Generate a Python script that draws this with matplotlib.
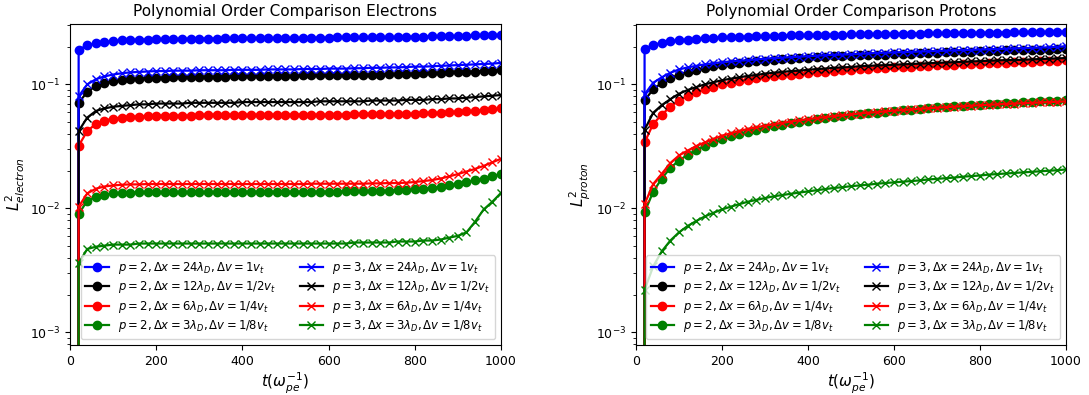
import numpy as np
import matplotlib
matplotlib.use('Agg')
import matplotlib.pyplot as plt

# =========================
# Dados
# =========================
t = np.arange(0, 1001, 20)

# Electrons, p = 2
e_p2_24 = [0.0,
    0.190, 0.207, 0.214, 0.219, 0.223, 0.226, 0.228, 0.229, 0.230, 0.231,
    0.232, 0.232, 0.233, 0.233, 0.234, 0.234, 0.234, 0.235, 0.235, 0.235,
    0.236, 0.236, 0.236, 0.236, 0.237, 0.237, 0.237, 0.238, 0.238, 0.238,
    0.239, 0.239, 0.239, 0.240, 0.240, 0.240, 0.241, 0.241, 0.242, 0.243,
    0.243, 0.244, 0.245, 0.245, 0.246, 0.247, 0.248, 0.249, 0.250, 0.251]
e_p2_12 = [0.0,
    0.071, 0.087, 0.097, 0.102, 0.106, 0.108, 0.110, 0.111, 0.112, 0.113,
    0.113, 0.114, 0.114, 0.114, 0.115, 0.115, 0.115, 0.115, 0.116, 0.116,
    0.116, 0.116, 0.117, 0.117, 0.117, 0.117, 0.118, 0.118, 0.118, 0.118,
    0.119, 0.119, 0.119, 0.120, 0.120, 0.120, 0.121, 0.121, 0.122, 0.122,
    0.123, 0.123, 0.124, 0.125, 0.125, 0.126, 0.127, 0.128, 0.129, 0.130]
e_p2_6 = [0.0,
    0.032, 0.042, 0.048, 0.051, 0.053, 0.054, 0.055, 0.055, 0.056, 0.056,
    0.056, 0.056, 0.056, 0.056, 0.057, 0.057, 0.057, 0.057, 0.057, 0.057,
    0.057, 0.057, 0.057, 0.057, 0.057, 0.057, 0.057, 0.057, 0.057, 0.057,
    0.057, 0.057, 0.058, 0.058, 0.058, 0.058, 0.058, 0.058, 0.058, 0.058,
    0.059, 0.059, 0.059, 0.060, 0.060, 0.061, 0.061, 0.062, 0.063, 0.064]
e_p2_3 = [0.0,
    0.0090, 0.0115, 0.0124, 0.0129, 0.0132, 0.0133, 0.0134, 0.0135, 0.0135, 0.0135,
    0.0135, 0.0135, 0.0135, 0.0135, 0.0135, 0.0135, 0.0135, 0.0136, 0.0136, 0.0136,
    0.0136, 0.0136, 0.0136, 0.0136, 0.0136, 0.0136, 0.0136, 0.0136, 0.0136, 0.0136,
    0.0136, 0.0137, 0.0137, 0.0137, 0.0138, 0.0138, 0.0139, 0.0140, 0.0141, 0.0142,
    0.0144, 0.0146, 0.0149, 0.0153, 0.0158, 0.0163, 0.0168, 0.0174, 0.0181, 0.0190]

# Electrons, p = 3
e_p3_24 = [0.0,
    0.080, 0.100, 0.110, 0.116, 0.120, 0.123, 0.125, 0.126, 0.127, 0.128,
    0.128, 0.129, 0.129, 0.129, 0.130, 0.130, 0.130, 0.130, 0.131, 0.131,
    0.131, 0.131, 0.132, 0.132, 0.132, 0.132, 0.133, 0.133, 0.133, 0.134,
    0.134, 0.134, 0.135, 0.135, 0.136, 0.136, 0.137, 0.137, 0.138, 0.139,
    0.139, 0.140, 0.141, 0.142, 0.143, 0.144, 0.145, 0.146, 0.147, 0.149]
e_p3_12 = [0.0,
    0.042, 0.054, 0.061, 0.064, 0.066, 0.067, 0.068, 0.069, 0.069, 0.070,
    0.070, 0.070, 0.070, 0.071, 0.071, 0.071, 0.071, 0.071, 0.071, 0.072,
    0.072, 0.072, 0.072, 0.072, 0.072, 0.072, 0.072, 0.072, 0.073, 0.073,
    0.073, 0.073, 0.073, 0.073, 0.074, 0.074, 0.074, 0.074, 0.075, 0.075,
    0.075, 0.076, 0.076, 0.077, 0.077, 0.078, 0.079, 0.080, 0.081, 0.082]
e_p3_6 = [0.0,
    0.0103, 0.0132, 0.0144, 0.0150, 0.0153, 0.0155, 0.0156, 0.0156, 0.0157, 0.0157,
    0.0157, 0.0157, 0.0157, 0.0157, 0.0157, 0.0157, 0.0157, 0.0157, 0.0157, 0.0157,
    0.0157, 0.0157, 0.0157, 0.0157, 0.0157, 0.0157, 0.0157, 0.0158, 0.0158, 0.0158,
    0.0158, 0.0158, 0.0158, 0.0158, 0.0159, 0.0159, 0.0160, 0.0160, 0.0161, 0.0163,
    0.0166, 0.0169, 0.0174, 0.0181, 0.0189, 0.0198, 0.0208, 0.0220, 0.0235, 0.0251]
e_p3_3 = [0.0,
    0.0036, 0.0047, 0.0049, 0.0050, 0.0051, 0.0051, 0.0051, 0.0052, 0.0052, 0.0052,
    0.0052, 0.0052, 0.0052, 0.0052, 0.0052, 0.0052, 0.0052, 0.0052, 0.0052, 0.0052,
    0.0052, 0.0052, 0.0052, 0.0052, 0.0052, 0.0052, 0.0052, 0.0052, 0.0052, 0.0052,
    0.0052, 0.0052, 0.0053, 0.0053, 0.0053, 0.0053, 0.0053, 0.0054, 0.0054, 0.0054,
    0.0055, 0.0055, 0.0056, 0.0058, 0.0060, 0.0064, 0.0078, 0.0098, 0.0113, 0.0133]

# Protons, p = 2
p_p2_24 = [0.0,
    0.193, 0.209, 0.216, 0.222, 0.227, 0.230, 0.233, 0.235, 0.237, 0.239,
    0.241, 0.242, 0.243, 0.244, 0.245, 0.246, 0.247, 0.248, 0.249, 0.250,
    0.250, 0.251, 0.252, 0.252, 0.253, 0.254, 0.254, 0.255, 0.255, 0.256,
    0.256, 0.257, 0.257, 0.258, 0.258, 0.259, 0.259, 0.260, 0.260, 0.261,
    0.261, 0.262, 0.262, 0.263, 0.263, 0.264, 0.264, 0.265, 0.265, 0.266]
p_p2_12 = [0.0,
    0.0745, 0.091, 0.103, 0.112, 0.120, 0.126, 0.131, 0.136, 0.140, 0.143,
    0.146, 0.149, 0.151, 0.153, 0.155, 0.157, 0.159, 0.161, 0.162, 0.164,
    0.165, 0.166, 0.168, 0.169, 0.170, 0.171, 0.172, 0.173, 0.174, 0.175,
    0.176, 0.177, 0.178, 0.179, 0.180, 0.181, 0.182, 0.183, 0.184, 0.185,
    0.186, 0.187, 0.188, 0.188, 0.189, 0.190, 0.191, 0.191, 0.192, 0.193]
p_p2_6 = [0.0,
    0.034, 0.048, 0.057, 0.066, 0.074, 0.080, 0.086, 0.091, 0.096, 0.100,
    0.103, 0.106, 0.109, 0.112, 0.114, 0.116, 0.118, 0.120, 0.122, 0.124,
    0.126, 0.127, 0.129, 0.130, 0.131, 0.133, 0.134, 0.135, 0.136, 0.137,
    0.138, 0.139, 0.140, 0.141, 0.142, 0.143, 0.144, 0.145, 0.146, 0.147,
    0.148, 0.149, 0.150, 0.151, 0.152, 0.152, 0.153, 0.154, 0.155, 0.156]
p_p2_3 = [0.0,
    0.0093, 0.0136, 0.0174, 0.0212, 0.0243, 0.0270, 0.0296, 0.0320, 0.0341, 0.0360,
    0.0380, 0.0398, 0.0415, 0.0431, 0.0446, 0.0460, 0.0474, 0.0487, 0.0499, 0.0511,
    0.0523, 0.0534, 0.0545, 0.0555, 0.0565, 0.0575, 0.0584, 0.0593, 0.0602, 0.0611,
    0.0619, 0.0627, 0.0635, 0.0643, 0.0651, 0.0658, 0.0665, 0.0672, 0.0679, 0.0686,
    0.0692, 0.0699, 0.0705, 0.0711, 0.0717, 0.0723, 0.0729, 0.0735, 0.0741, 0.0747]

# Protons, p = 3
p_p3_24 = [0.0,
    0.083, 0.103, 0.114, 0.124, 0.132, 0.137, 0.141, 0.145, 0.148, 0.151,
    0.153, 0.155, 0.157, 0.159, 0.161, 0.163, 0.164, 0.166, 0.167, 0.169,
    0.170, 0.172, 0.173, 0.174, 0.175, 0.176, 0.178, 0.179, 0.180, 0.181,
    0.182, 0.183, 0.184, 0.185, 0.186, 0.187, 0.188, 0.189, 0.190, 0.191,
    0.192, 0.193, 0.194, 0.195, 0.196, 0.197, 0.198, 0.199, 0.201, 0.203]
p_p3_12 = [0.0,
    0.043, 0.059, 0.068, 0.076, 0.084, 0.090, 0.095, 0.100, 0.104, 0.108,
    0.111, 0.114, 0.117, 0.119, 0.122, 0.124, 0.126, 0.128, 0.129, 0.131,
    0.133, 0.134, 0.136, 0.137, 0.138, 0.140, 0.141, 0.142, 0.143, 0.144,
    0.145, 0.146, 0.147, 0.148, 0.149, 0.150, 0.151, 0.152, 0.153, 0.154,
    0.155, 0.156, 0.157, 0.157, 0.158, 0.159, 0.160, 0.161, 0.162, 0.163]
p_p3_6 = [0.0,
    0.0108, 0.0157, 0.0190, 0.0232, 0.0267, 0.0292, 0.0318, 0.0340, 0.0362, 0.0385,
    0.0402, 0.0420, 0.0436, 0.0451, 0.0464, 0.0477, 0.0489, 0.0501, 0.0513, 0.0525,
    0.0535, 0.0545, 0.0555, 0.0564, 0.0573, 0.0582, 0.0590, 0.0598, 0.0606, 0.0614,
    0.0621, 0.0628, 0.0635, 0.0642, 0.0649, 0.0655, 0.0661, 0.0667, 0.0673, 0.0679,
    0.0684, 0.0690, 0.0695, 0.0700, 0.0705, 0.0710, 0.0715, 0.0720, 0.0724, 0.0729]
p_p3_3 = [0.0,
    0.0022, 0.0034, 0.0045, 0.0055, 0.0064, 0.0072, 0.0079, 0.0086, 0.0092, 0.0098,
    0.0103, 0.0108, 0.0113, 0.0117, 0.0121, 0.0125, 0.0128, 0.0131, 0.0134, 0.0137,
    0.0140, 0.0143, 0.0146, 0.0148, 0.0151, 0.0153, 0.0155, 0.0158, 0.0160, 0.0162,
    0.0164, 0.0166, 0.0168, 0.0171, 0.0173, 0.0175, 0.0177, 0.0180, 0.0182, 0.0184,
    0.0187, 0.0189, 0.0191, 0.0193, 0.0195, 0.0197, 0.0199, 0.0201, 0.0203, 0.0206]

cores = ['b', 'k', 'r', 'g']
labels_p2 = [r'$p=2, \Delta x=24\lambda_D, \Delta v=1v_t$',
             r'$p=2, \Delta x=12\lambda_D, \Delta v=1/2v_t$',
             r'$p=2, \Delta x=6\lambda_D, \Delta v=1/4v_t$',
             r'$p=2, \Delta x=3\lambda_D, \Delta v=1/8v_t$']
labels_p3 = [l.replace('p=2', 'p=3') for l in labels_p2]

paineis = [
    ('Polynomial Order Comparison Electrons', r'$L^2_{electron}$',
     [e_p2_24, e_p2_12, e_p2_6, e_p2_3], [e_p3_24, e_p3_12, e_p3_6, e_p3_3]),
    ('Polynomial Order Comparison Protons', r'$L^2_{proton}$',
     [p_p2_24, p_p2_12, p_p2_6, p_p2_3], [p_p3_24, p_p3_12, p_p3_6, p_p3_3]),
]

# =========================
# Figura
# =========================
fig = plt.figure(figsize=(10.89, 3.95), dpi=100)
posicoes = [[0.0643, 0.1266, 0.3957, 0.8118],
            [0.5840, 0.1266, 0.3949, 0.8118]]

for pos, (titulo, ylab, series2, series3) in zip(posicoes, paineis):
    ax = fig.add_axes(pos)
    for y, c, lab in zip(series2, cores, labels_p2):
        ax.semilogy(t, y, color=c, marker='o', markersize=6, lw=1.6, label=lab)
    for y, c, lab in zip(series3, cores, labels_p3):
        ax.semilogy(t, y, color=c, marker='x', markersize=6, lw=1.6, label=lab)
    ax.set_xlim(0, 1000)
    ax.set_ylim(7.9e-4, 0.305)
    ax.set_title(titulo, fontsize=11)
    ax.set_xlabel(r'$t(\omega_{pe}^{-1})$', fontsize=11, labelpad=2)
    ax.set_ylabel(ylab, fontsize=11, labelpad=2)
    ax.tick_params(labelsize=9)
    ax.legend(loc='lower right', ncol=2, fontsize=8.4, labelspacing=0.3)

plt.savefig('out.png', dpi=100)
plt.close()
